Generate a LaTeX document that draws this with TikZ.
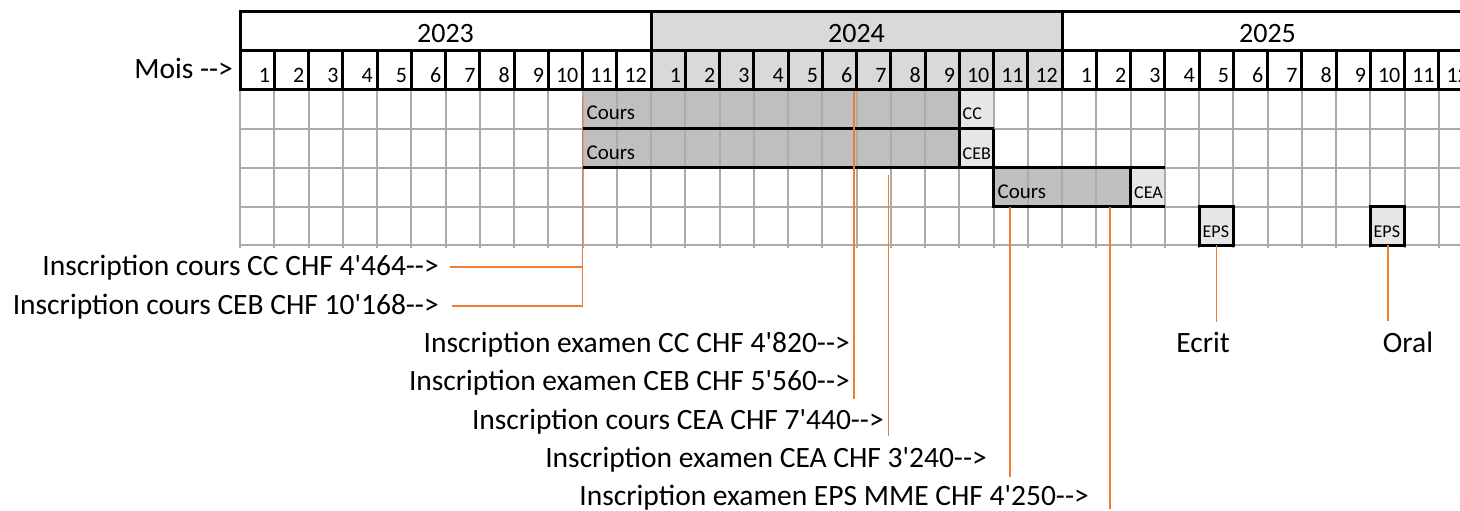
\documentclass[tikz,border=0pt]{standalone}
\usepackage{fontspec}
\setmainfont{Carlito}[Ligatures=TeXOff]
\definecolor{gridgray}{RGB}{174,170,170}
\definecolor{bargray}{RGB}{191,191,191}
\definecolor{cellgray}{RGB}{231,230,230}
\definecolor{yeargray}{RGB}{217,217,217}
\definecolor{leadorange}{RGB}{237,125,49}
\tikzset{
  lbl/.style={inner sep=0pt, font=\fontsize{29.5}{31}\selectfont},
  yeartxt/.style={inner sep=0pt, anchor=base, font=\fontsize{28}{30}\selectfont},
  monthtxt/.style={inner sep=0pt, anchor=base east, font=\fontsize{22}{24}\selectfont},
  bartxt/.style={inner sep=0pt, anchor=base west, font=\fontsize{21}{23}\selectfont},
  celltxt/.style={inner sep=0pt, anchor=base west, font=\fontsize{18}{20}\selectfont},
  blackline/.style={draw=black, line width=3pt},
  gridline/.style={draw=gridgray, line width=2pt},
  lead/.style={draw=leadorange, line width=1.5pt},
}
\begin{document}
\begin{tikzpicture}[x=1pt, y=-1pt]
\useasboundingbox (0,0) rectangle (1460,511);
\clip (0,0) rectangle (1460,511);
\fill[yeargray] (651,12) rectangle (1062,90);
\fill[bargray] (582.5,90) rectangle (959.25,167.5);
\fill[cellgray] (959.25,90) rectangle (993.5,167.5);
\fill[bargray] (993.5,167.5) rectangle (1130.5,206.5);
\fill[cellgray] (1130.5,167.5) rectangle (1164.75,206.5);
\fill[cellgray] (1199,206.5) rectangle (1233.25,245);
\fill[cellgray] (1370.25,206.5) rectangle (1404.5,245);
\foreach \k in {0,...,36}
  \draw[gridline] ({240+34.25*\k},90) -- ({240+34.25*\k},248);
\foreach \y in {128.5,167.5,206.5,245}
  \draw[gridline] (240,\y) -- (1473,\y);
\foreach \k in {0,...,35} {
  \pgfmathtruncatemacro\mo{mod(\k,12)+1}
  \draw[blackline] ({240+34.25*\k},51) rectangle ({240+34.25*(\k+1)},90);
  \node[monthtxt] (m\k) at ({240+34.25*(\k+1)-4},82) {\mo};
}
\foreach \yr [count=\i from 0] in {2023,2024,2025} {
  \draw[blackline] ({240+411*\i},12) rectangle ({240+411*(\i+1)},51);
  \node[yeartxt] (y\yr) at ({240+411*\i+205.5},43) {\yr};
}
\draw[blackline] (582.5,128.5) -- (993.5,128.5);
\draw[blackline] (582.5,167.5) -- (1164.75,167.5);
\draw[blackline] (959.25,90) -- (959.25,167.5);
\draw[blackline] (993.5,128.5) -- (993.5,206.5) -- (1164.75,206.5);
\draw[blackline] (1130.5,167.5) -- (1130.5,206.5);
\draw[blackline] (1199,206.5) rectangle (1233.25,245);
\draw[blackline] (1370.25,206.5) rectangle (1404.5,245);
\node[bartxt] (coursCC) at (586.5,120) {Cours};
\node[bartxt] (coursCEB) at (586.5,159) {Cours};
\node[bartxt] (coursCEA) at (997.5,198) {Cours};
\node[celltxt] (tCC) at (962.5,120) {CC};
\node[celltxt] (tCEB) at (962.5,159) {CEB};
\node[celltxt] (tCEA) at (1134,198) {CEA};
\node[celltxt] (tEPS1) at (1202.5,237) {EPS};
\node[celltxt] (tEPS2) at (1373.5,237) {EPS};
\node[lbl, anchor=base east] (mois) at (233,78) {Mois -->};
\node[lbl, anchor=base east] (insCC) at (439,275) {Inscription cours CC CHF 4'464-->};
\node[lbl, anchor=base east] (insCEB) at (439,314) {Inscription cours CEB CHF 10'168-->};
\node[lbl, anchor=base east] (exCC) at (850,352) {Inscription examen CC CHF 4'820-->};
\node[lbl, anchor=base east] (exCEB) at (850,390) {Inscription examen CEB CHF 5'560-->};
\node[lbl, anchor=base east] (insCEA) at (884,429) {Inscription cours CEA CHF 7'440-->};
\node[lbl, anchor=base east] (exCEA) at (987,467) {Inscription examen CEA CHF 3'240-->};
\node[lbl, anchor=base east] (exEPS) at (1089,505) {Inscription examen EPS MME CHF 4'250-->};
\node[lbl, anchor=base] (ecrit) at (1203,352) {Ecrit};
\node[lbl, anchor=base] (oral) at (1408,352) {Oral};
\coordinate (aCours) at (582.5,97);
\coordinate (aExam) at (854,91);
\coordinate (eExam) at (854,399);
\coordinate (aCEA) at (888.7,175);
\coordinate (eCEA) at (888.7,436);
\coordinate (aExCEA) at (1010,206.5);
\coordinate (eExCEA) at (1010,477);
\coordinate (aEPS) at (1110,206.5);
\coordinate (eEPS) at (1110,509);
\coordinate (aEcrit) at (1216.5,245);
\coordinate (eEcrit) at (1216.5,322);
\coordinate (aOral) at (1388,245);
\coordinate (eOral) at (1388,321);
\draw[lead] ([xshift=11pt]insCC.east) -- (insCC.east -| aCours);
\draw[lead] ([xshift=13pt]insCEB.east) -| (aCours);
\draw[lead] (aExam) -- (eExam);
\draw[lead] (aCEA) -- (eCEA);
\draw[lead] (aExCEA) -- (eExCEA);
\draw[lead] (aEPS) -- (eEPS);
\draw[lead] (aEcrit) -- (eEcrit);
\draw[lead] (aOral) -- (eOral);
\end{tikzpicture}
\end{document}
